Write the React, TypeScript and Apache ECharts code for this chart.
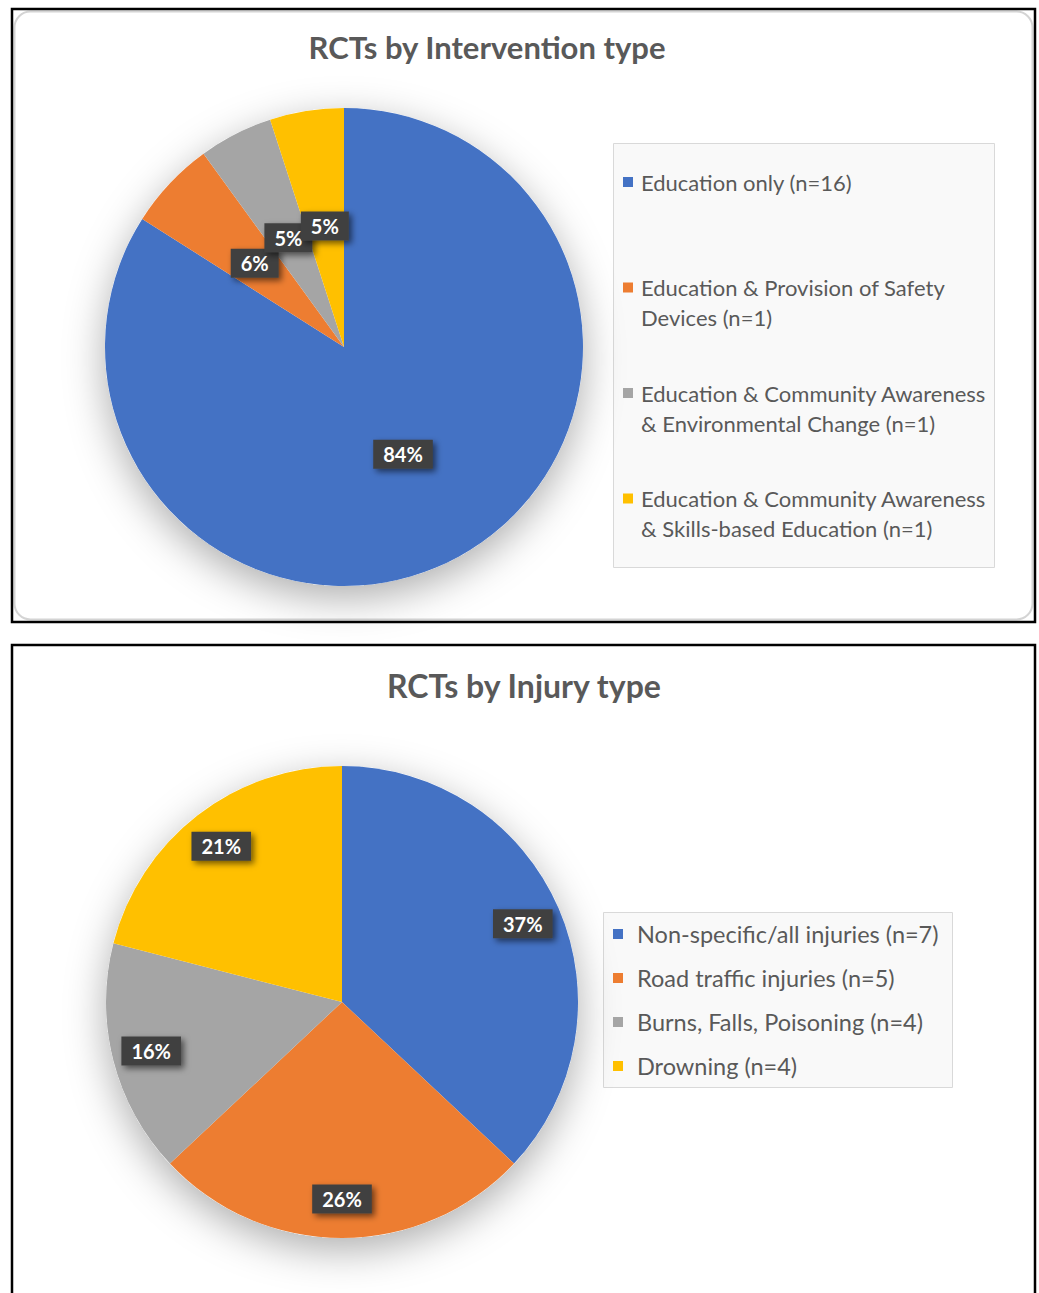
import React, { useEffect, useRef } from 'react';
import * as echarts from 'echarts';

// Chart 1: RCTs by Intervention type
const interventionNames = [
  'Education only (n=16)',
  'Education & Provision of Safety\nDevices (n=1)',
  'Education & Community Awareness\n& Environmental Change (n=1)',
  'Education & Community Awareness\n& Skills-based Education (n=1)',
];
const interventionPercents = [84, 6, 5, 5];

// Chart 2: RCTs by Injury type
const injuryNames = [
  'Non-specific/all injuries (n=7)',
  'Road traffic injuries (n=5)',
  'Burns, Falls, Poisoning (n=4)',
  'Drowning (n=4)',
];
const injuryPercents = [37, 26, 16, 21];

const sliceColors = ['#4472C4', '#ED7D31', '#A5A5A5', '#FFC000'];

const titleTop = 'RCTs by Intervention type';
const titleBottom = 'RCTs by Injury type';

const FONT = 'Lato, "Open Sans", sans-serif';
const NBSP = '\u00a0';

const labelStyle = {
  show: true,
  position: 'inside',
  formatter: '{c}%',
  color: '#ffffff',
  fontFamily: FONT,
  fontWeight: 'bold',
  fontSize: 20,
  backgroundColor: '#404040',
  padding: [5, 10, 4, 10],
  shadowColor: 'rgba(0,0,0,0.55)',
  shadowBlur: 6,
  shadowOffsetX: 3,
  shadowOffsetY: 3,
};

function sum(a: number[]) {
  return a.reduce((s, v) => s + v, 0);
}

function pieGroup(
  names: string[],
  values: number[],
  center: [number, number],
  r: number,
  labelRadius: [number, number]
) {
  return [
    {
      type: 'pie',
      name: 'shadow',
      silent: true,
      center,
      radius: r,
      z: 1,
      label: { show: false },
      labelLine: { show: false },
      itemStyle: {
        color: '#ffffff',
        shadowColor: 'rgba(0,0,0,0.32)',
        shadowBlur: 40,
        shadowOffsetY: 12,
      },
      data: [{ value: sum(values) }],
    },
    {
      type: 'pie',
      center,
      radius: r,
      z: 2,
      startAngle: 90,
      clockwise: true,
      label: { show: false },
      labelLine: { show: false },
      data: names.map((n, i) => ({
        name: n,
        value: values[i],
        itemStyle: { color: sliceColors[i] },
      })),
    },
    {
      type: 'pie',
      silent: true,
      center,
      radius: labelRadius,
      z: 3,
      startAngle: 90,
      clockwise: true,
      avoidLabelOverlap: false,
      labelLayout: { hideOverlap: false },
      itemStyle: { color: 'rgba(0,0,0,0)' },
      label: labelStyle,
      labelLine: { show: false },
      data: values.map((v) => ({ value: v })),
    },
  ];
}

export default function App() {
  const ref = useRef<HTMLDivElement>(null);
  useEffect(() => {
    if (!ref.current) return;
    const chart = echarts.init(ref.current, null, { renderer: 'svg' });
    const lhTop = 30;
    const lhBot = 24;
    chart.setOption({
      animation: false,
      backgroundColor: '#ffffff',
      graphic: [
        // top panel frame
        {
          type: 'rect',
          z: 0,
          shape: { x: 14.5, y: 11.5, width: 1018, height: 608, r: 16 },
          style: { fill: '#ffffff', stroke: '#d4d4d4', lineWidth: 2 },
        },
        {
          type: 'rect',
          z: 0,
          shape: { x: 12, y: 9, width: 1023, height: 613 },
          style: { fill: 'none', stroke: '#000000', lineWidth: 2.5 },
        },
        // bottom panel frame
        {
          type: 'rect',
          z: 0,
          shape: { x: 12, y: 645, width: 1023, height: 700 },
          style: { fill: 'none', stroke: '#000000', lineWidth: 2.5 },
        },
        // legend boxes
        {
          type: 'rect',
          z: 0,
          shape: { x: 613.5, y: 143.5, width: 381, height: 424 },
          style: { fill: '#f9f9f9', stroke: '#d9d9d9', lineWidth: 1 },
        },
        {
          type: 'rect',
          z: 0,
          shape: { x: 603.5, y: 912.5, width: 349, height: 175 },
          style: { fill: '#f9f9f9', stroke: '#d9d9d9', lineWidth: 1 },
        },
        // titles
        {
          type: 'text',
          z: 5,
          x: 487,
          y: 47,
          style: {
            text: titleTop,
            align: 'center',
            verticalAlign: 'middle',
            fontFamily: FONT,
            fontWeight: 'bold',
            fontSize: 31,
            fill: '#595959',
          },
        },
        {
          type: 'text',
          z: 5,
          x: 524,
          y: 685,
          style: {
            text: titleBottom,
            align: 'center',
            verticalAlign: 'middle',
            fontFamily: FONT,
            fontWeight: 'bold',
            fontSize: 32,
            fill: '#595959',
          },
        },
      ],
      legend: [
        {
          orient: 'vertical',
          left: 623,
          top: 182 - lhTop * 1.5,
          padding: 0,
          itemGap: 105.5 - lhTop * 3,
          itemWidth: 10,
          itemHeight: 10,
          icon: 'rect',
          selectedMode: false,
          data: interventionNames,
          formatter: (n: string) =>
            NBSP + '\n' + (n.indexOf('\n') >= 0 ? n : n + '\n' + NBSP),
          textStyle: {
            fontFamily: FONT,
            fontSize: 22,
            color: '#595959',
            lineHeight: lhTop,
            padding: [0, 0, 0, 3],
          },
        },
        {
          orient: 'vertical',
          left: 613,
          top: 934 - lhBot / 2,
          padding: 0,
          itemGap: 44 - lhBot,
          itemWidth: 10,
          itemHeight: 10,
          icon: 'rect',
          selectedMode: false,
          data: injuryNames,
          textStyle: {
            fontFamily: FONT,
            fontSize: 23.5,
            color: '#595959',
            lineHeight: lhBot,
            padding: [0, 0, 0, 9],
          },
        },
      ],
      series: [
        ...pieGroup(interventionNames, interventionPercents, [344, 347], 239, [0, 239]),
        ...pieGroup(injuryNames, injuryPercents, [342, 1002], 236, [152, 236]),
      ],
    });
    return () => chart.dispose();
  }, []);
  return (
    <div
      ref={ref}
      style={{ position: 'absolute', left: 0, top: 0, width: 1039, height: 1293 }}
    />
  );
}
